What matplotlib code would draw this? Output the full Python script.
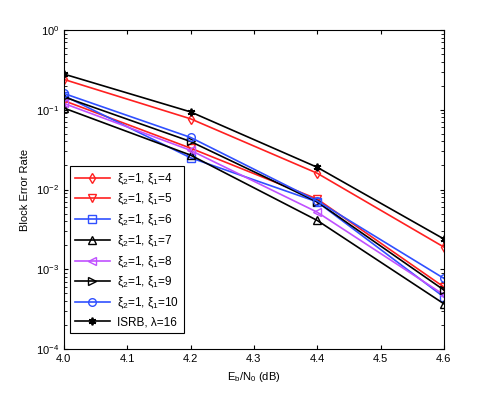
import matplotlib
matplotlib.use("Agg")
import matplotlib.pyplot as plt
from matplotlib.ticker import LogLocator, MultipleLocator, NullFormatter

plt.rcParams['font.family'] = ['Liberation Sans', 'DejaVu Sans']
plt.rcParams['mathtext.fontset'] = 'custom'
plt.rcParams['mathtext.rm'] = 'Liberation Sans'
plt.rcParams['mathtext.it'] = 'Liberation Sans'
plt.rcParams['mathtext.sf'] = 'Liberation Sans'

# Eb/N0 (dB)
ebn0 = [4.0, 4.2, 4.4, 4.6]

# block error rate per configuration
bler_xi4 = [0.24, 0.077, 0.016, 0.0019]
bler_xi5 = [0.13, 0.033, 0.0076, 0.0006]
bler_xi6 = [0.15, 0.025, 0.0070, 0.00045]
bler_xi7 = [0.105, 0.027, 0.0041, 0.00037]
bler_xi8 = [0.12, 0.031, 0.0052, 0.00048]
bler_xi9 = [0.145, 0.040, 0.0070, 0.00055]
bler_xi10 = [0.16, 0.045, 0.0072, 0.00077]
bler_isrb = [0.28, 0.094, 0.019, 0.0024]

labels = ['ξ$_2$=1, ξ$_1$=4', 'ξ$_2$=1, ξ$_1$=5', 'ξ$_2$=1, ξ$_1$=6',
          'ξ$_2$=1, ξ$_1$=7', 'ξ$_2$=1, ξ$_1$=8', 'ξ$_2$=1, ξ$_1$=9',
          'ξ$_2$=1, ξ$_1$=10', 'ISRB, λ=16']

red = '#ff2020'
blue = '#3050ff'
mag = '#c050ff'
asterisk = (6, 2, 0)
series = [
    (bler_xi4, red, 'd'),
    (bler_xi5, red, 'v'),
    (bler_xi6, blue, 's'),
    (bler_xi7, 'k', '^'),
    (bler_xi8, mag, '<'),
    (bler_xi9, 'k', '>'),
    (bler_xi10, blue, 'o'),
    (bler_isrb, 'k', asterisk),
]

fig = plt.figure(figsize=(4.91, 3.94), dpi=100)
ax = fig.add_axes([0.130, 0.114, 0.774, 0.810])

for (y, c, m), lab in zip(series, labels):
    ax.semilogy(ebn0, y, color=c, marker=m, markersize=5.5, linewidth=1.2,
                markerfacecolor='none', markeredgecolor=c,
                markeredgewidth=1.3 if m == asterisk else 1.0, label=lab)

ax.set_xlim(4.0, 4.6)
ax.set_ylim(1e-4, 1)
ax.xaxis.set_major_locator(MultipleLocator(0.1))
ax.yaxis.set_major_locator(LogLocator(base=10))
ax.yaxis.set_minor_locator(LogLocator(base=10, subs=range(2, 10)))
ax.yaxis.set_minor_formatter(NullFormatter())
ax.tick_params(which='both', direction='in', top=True, right=True, labelsize=8)
ax.tick_params(which='major', length=3)
ax.tick_params(which='minor', length=2)

ax.set_xlabel(r'E$_b$/N$_0$ (dB)', fontsize=8)
ax.set_ylabel('Block Error Rate', fontsize=8)

leg = ax.legend(loc='lower left', bbox_to_anchor=(0.016, 0.05), borderaxespad=0,
                fontsize=8.5, fancybox=False, edgecolor='k', framealpha=1,
                handlelength=3.0, handletextpad=0.6, labelspacing=0.45)
leg.get_frame().set_linewidth(0.8)

fig.savefig('out.png', dpi=100)
